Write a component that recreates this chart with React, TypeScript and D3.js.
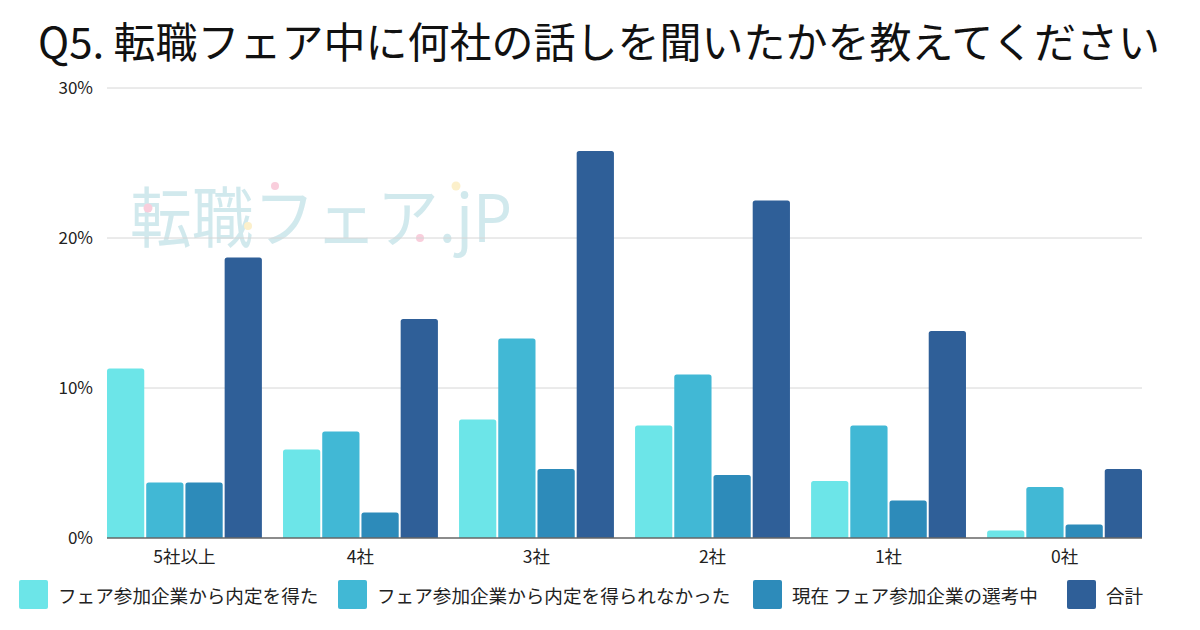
import React from "react";
import * as d3 from "d3";

const categories = ["5社以上", "4社", "3社", "2社", "1社", "0社"];
const seriesNames = [
  "フェア参加企業から内定を得た",
  "フェア参加企業から内定を得られなかった",
  "現在 フェア参加企業の選考中",
  "合計",
];
const seriesColors = ["#6CE5E8", "#41B8D5", "#2D8BBA", "#2F5F98"];
const gotOffer = [11.3, 5.9, 7.9, 7.5, 3.8, 0.5];
const noOffer = [3.7, 7.1, 13.3, 10.9, 7.5, 3.4];
const inSelection = [3.7, 1.7, 4.6, 4.2, 2.5, 0.9];
const total = [18.7, 14.6, 25.8, 22.5, 13.8, 4.6];
const yTicks = [0, 10, 20, 30];

const seriesValues = [gotOffer, noOffer, inSelection, total];
const FONT = "'Noto Sans CJK JP', 'Noto Sans', sans-serif";

function topRounded(x: number, y: number, w: number, h: number, r: number) {
  const rr = Math.min(r, h / 2, w / 2);
  return `M${x},${y + h}V${y + rr}Q${x},${y} ${x + rr},${y}H${x + w - rr}Q${x + w},${y} ${x + w},${y + rr}V${y + h}Z`;
}

export default function App() {
  const W = 1200, H = 630;
  const left = 107, right = 1142, top = 88, bottom = 538;
  const x0 = d3.scaleBand<string>().domain(categories).range([left, right]).paddingInner(0.12).paddingOuter(0);
  const x1 = d3.scaleBand<number>().domain([0, 1, 2, 3]).range([0, x0.bandwidth()]).paddingInner(0.05);
  const y = d3.scaleLinear().domain([0, 30]).range([bottom, top]);

  const legendX = [19, 338, 753, 1067];

  return (
    <svg width={W} height={H} style={{ position: "absolute", left: 0, top: 0, background: "#fff" }} fontFamily={FONT}>
      <rect width={W} height={H} fill="#fff" />
      <text x={38} y={58} fontSize={42} fill="#111" textLength={1122} lengthAdjust="spacingAndGlyphs">
        Q5. 転職フェア中に何社の話しを聞いたかを教えてください
      </text>
      {/* watermark */}
      <g opacity={0.9}>
        <text x={130} y={242} fontSize={66} fill="#CDE7EC" fontFamily={FONT} textLength={382} lengthAdjust="spacingAndGlyphs">
          転職フェア.jP
        </text>
        <circle cx={148} cy={208} r={4.5} fill="#F9C9D9" />
        <circle cx={275} cy={186} r={4} fill="#F9C9D9" />
        <circle cx={248} cy={226} r={4} fill="#FCEFC6" />
        <circle cx={420} cy={238} r={4} fill="#F9C9D9" />
        <circle cx={456} cy={186} r={4.5} fill="#FCEFC6" />
      </g>
      {yTicks.map((t) => (
        <g key={t}>
          {t > 0 && <line x1={left} x2={right} y1={y(t)} y2={y(t)} stroke="#D6D6D6" strokeWidth={1} />}
          <text x={93} y={y(t)} dy="0.35em" textAnchor="end" fontSize={17} fill="#222">
            {t}%
          </text>
        </g>
      ))}
      {categories.map((c, i) => (
        <g key={c} transform={`translate(${x0(c)},0)`}>
          {seriesValues.map((vals, s) => {
            const bx = x1(s)!;
            const by = y(vals[i]);
            return (
              <path
                key={s}
                d={topRounded(bx, by, x1.bandwidth(), bottom - by, 2.5)}
                fill={seriesColors[s]}
              />
            );
          })}
          <text x={x0.bandwidth() / 2} y={557} dy="0.35em" textAnchor="middle" fontSize={17.5} fill="#222">
            {c}
          </text>
        </g>
      ))}
      <line x1={left} x2={right} y1={bottom} y2={bottom} stroke="#666" strokeWidth={1.5} />
      {seriesNames.map((n, s) => (
        <g key={n}>
          <rect x={legendX[s]} y={580} width={29} height={29} rx={2} fill={seriesColors[s]} />
          <text x={legendX[s] + 39} y={596} dy="0.35em" fontSize={18.6} fill="#222">
            {n}
          </text>
        </g>
      ))}
    </svg>
  );
}
